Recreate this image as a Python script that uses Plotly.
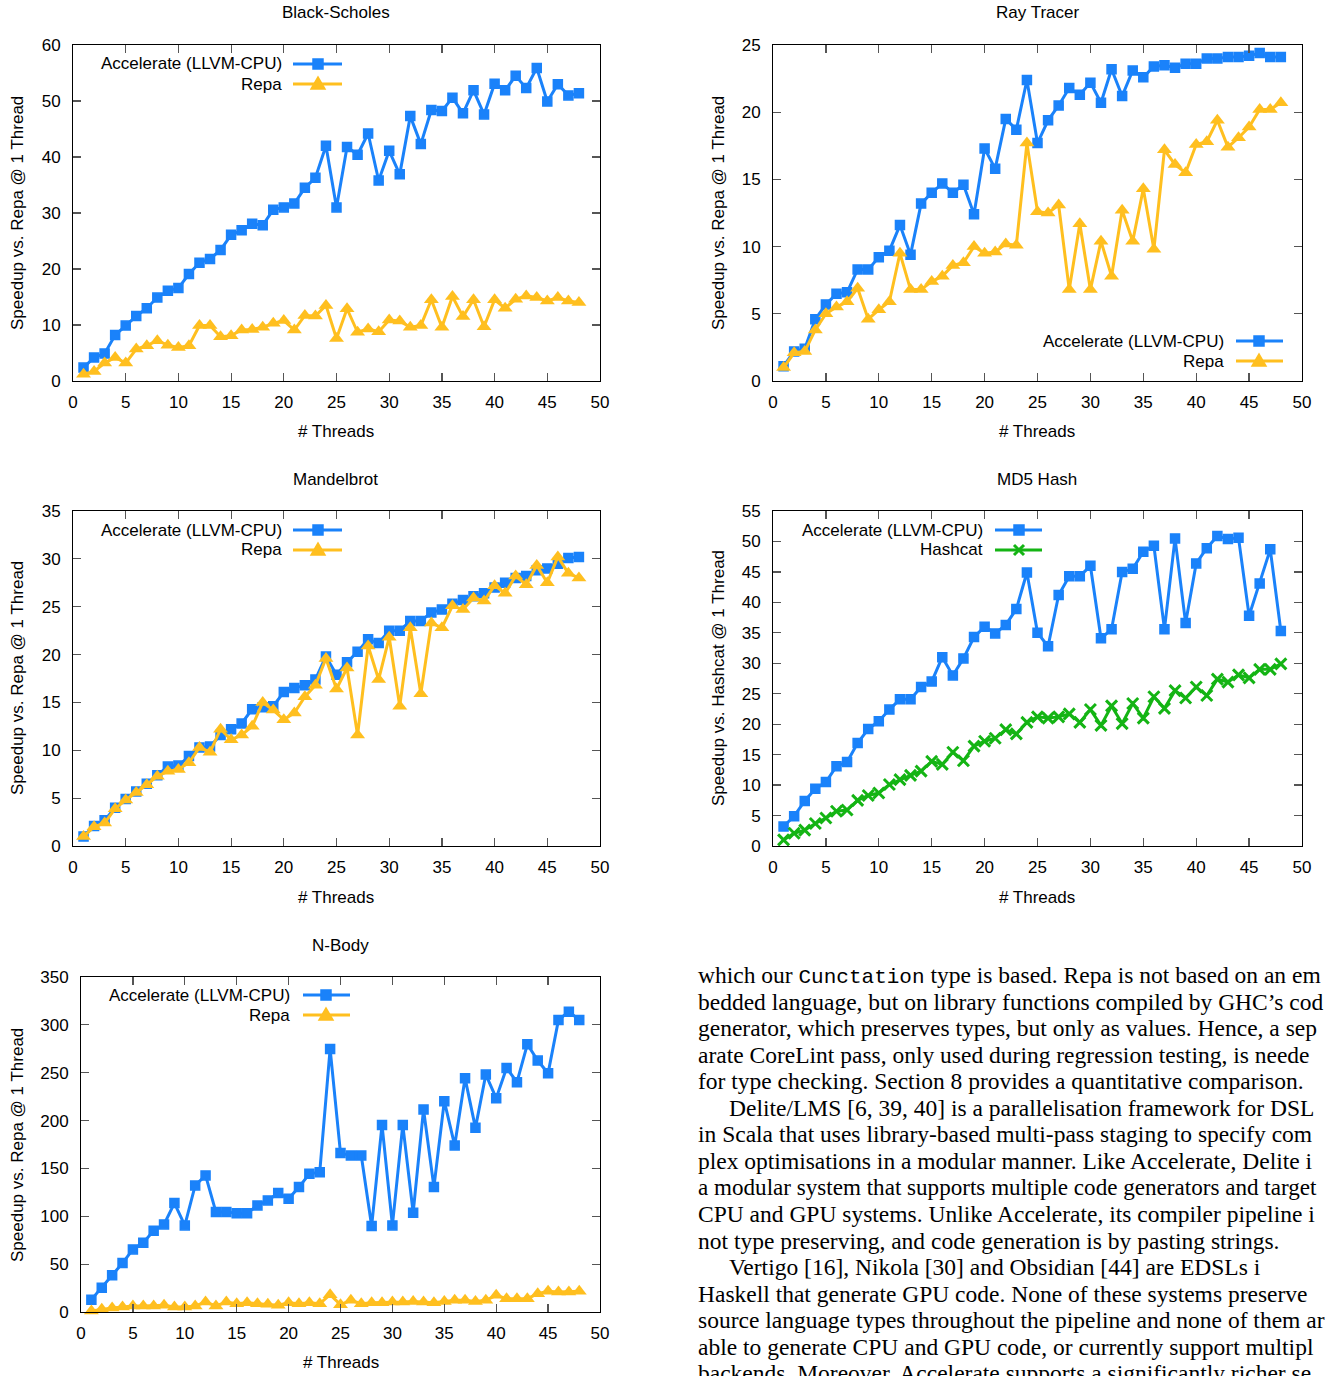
import plotly.graph_objects as go

# ---------------- data ----------------
threads = list(range(1, 49))

bs_accel = [2.4, 4.2, 4.9, 8.2, 9.9, 11.6, 13.0, 14.9, 16.1, 16.6,
            19.1, 21.1, 21.8, 23.4, 26.1, 26.9, 28.1, 27.8, 30.6, 31.0,
            31.7, 34.5, 36.3, 42.0, 31.0, 41.8, 40.4, 44.2, 35.8, 41.1,
            36.9, 47.3, 42.3, 48.4, 48.2, 50.6, 47.8, 51.9, 47.6, 53.1,
            51.9, 54.5, 52.3, 55.9, 49.9, 53.0, 51.0, 51.4]
bs_repa = [1.2, 1.7, 3.2, 4.2, 3.2, 5.7, 6.3, 7.2, 6.4, 6.0,
           6.3, 9.9, 9.9, 7.9, 8.1, 9.1, 9.2, 9.6, 10.3, 10.8,
           9.1, 11.7, 11.6, 13.5, 7.6, 12.9, 8.7, 9.3, 8.8, 10.9,
           10.7, 9.6, 9.9, 14.5, 9.6, 15.1, 11.5, 14.5, 9.7, 14.5,
           13.0, 14.6, 15.2, 14.9, 14.3, 14.9, 14.3, 14.0]

rt_accel = [1.1, 2.2, 2.4, 4.6, 5.7, 6.5, 6.6, 8.3, 8.3, 9.2,
            9.7, 11.6, 9.4, 13.2, 14.0, 14.7, 14.0, 14.6, 12.4, 17.3,
            15.8, 19.5, 18.7, 22.4, 17.7, 19.4, 20.5, 21.8, 21.3, 22.2,
            20.7, 23.2, 21.2, 23.1, 22.6, 23.4, 23.5, 23.3, 23.6, 23.6,
            24.0, 24.0, 24.1, 24.1, 24.2, 24.4, 24.1, 24.1]
rt_repa = [1.0, 2.1, 2.2, 3.8, 5.0, 5.5, 5.9, 6.9, 4.6, 5.3,
           5.9, 9.5, 6.8, 6.8, 7.4, 7.8, 8.6, 8.8, 10.0, 9.5,
           9.6, 10.2, 10.1, 17.7, 12.6, 12.5, 13.1, 6.8, 11.7, 6.8,
           10.4, 7.8, 12.7, 10.4, 14.3, 9.8, 17.2, 16.1, 15.5, 17.6,
           17.8, 19.4, 17.4, 18.1, 18.9, 20.2, 20.2, 20.7]

mb_accel = [1.0, 2.1, 2.7, 4.0, 4.9, 5.7, 6.5, 7.4, 8.3, 8.4,
            9.4, 10.3, 10.4, 11.6, 12.2, 12.8, 14.3, 14.5, 14.6, 16.1,
            16.5, 16.8, 17.4, 19.8, 17.9, 19.2, 20.3, 21.6, 21.2, 22.5,
            22.5, 23.5, 23.5, 24.4, 24.7, 25.3, 25.7, 26.1, 26.4, 27.0,
            27.5, 28.0, 28.2, 28.8, 29.0, 29.5, 30.1, 30.2]
mb_repa = [1.0, 2.0, 2.4, 3.9, 4.8, 5.6, 6.4, 7.3, 7.8, 8.0,
           8.7, 10.3, 9.8, 12.2, 11.1, 11.6, 12.5, 15.0, 14.2, 13.2,
           13.9, 15.6, 16.8, 19.6, 16.4, 18.6, 11.6, 20.9, 17.4, 21.8,
           14.6, 22.8, 15.9, 23.3, 22.8, 25.1, 24.7, 25.9, 25.6, 27.2,
           26.4, 28.2, 27.3, 29.3, 27.5, 30.2, 28.5, 28.0]

md5_accel = [3.2, 4.9, 7.4, 9.4, 10.5, 13.1, 13.8, 16.9, 19.2, 20.5,
             22.4, 24.1, 24.1, 26.1, 27.0, 31.0, 28.0, 30.8, 34.3, 36.0,
             34.9, 36.3, 38.9, 44.9, 35.0, 32.8, 41.2, 44.3, 44.3, 46.0,
             34.1, 35.6, 45.0, 45.5, 48.3, 49.3, 35.6, 50.5, 36.6, 46.4,
             48.9, 50.9, 50.4, 50.6, 37.8, 43.1, 48.7, 35.3]
md5_hashcat = [1.0, 2.1, 2.6, 3.7, 4.6, 5.7, 5.9, 7.5, 8.3, 8.7,
               10.1, 10.9, 11.6, 12.3, 13.9, 13.4, 15.4, 14.0, 16.4, 17.2,
               17.7, 19.1, 18.4, 20.3, 21.2, 21.0, 21.2, 21.7, 20.3, 22.4,
               19.8, 23.0, 20.1, 23.4, 21.0, 24.5, 22.6, 25.5, 24.3, 26.1,
               24.7, 27.4, 26.9, 28.1, 27.6, 29.0, 29.0, 29.9]

nb_accel = [12.9, 25.4, 38.3, 51.1, 65.4, 72.4, 84.9, 91.5, 113.8, 90.5,
            132.2, 142.7, 104.4, 104.4, 103.3, 103.3, 111.3, 116.6, 124.2, 118.3,
            130.5, 144.4, 146.1, 274.9, 166.0, 163.5, 163.5, 89.8, 195.5, 90.5,
            195.5, 103.7, 211.6, 130.5, 220.3, 174.0, 244.3, 192.4, 248.1, 223.4,
            255.0, 240.1, 279.7, 262.7, 249.5, 305.2, 313.8, 305.2]
nb_repa = [1.0, 2.8, 4.2, 5.2, 6.3, 6.3, 6.3, 7.0, 5.2, 5.2,
           6.3, 10.4, 6.3, 10.4, 8.7, 9.7, 8.7, 8.0, 7.0, 9.7,
           8.7, 9.7, 8.7, 18.1, 7.7, 12.2, 8.7, 9.7, 9.7, 10.4,
           10.4, 11.1, 10.4, 9.7, 11.1, 12.2, 12.2, 11.1, 12.2, 17.4,
           13.9, 13.9, 13.9, 19.1, 21.6, 20.9, 20.9, 21.6]

titles = ["Black-Scholes", "Ray Tracer", "Mandelbrot", "MD5 Hash", "N-Body"]
x_title = "# Threads"
y_title_repa = "Speedup vs. Repa @ 1 Thread"
y_title_hashcat = "Speedup vs. Hashcat @ 1 Thread"
name_accel = "Accelerate (LLVM-CPU)"
name_repa = "Repa"
name_hashcat = "Hashcat"

# body text, as much of each line as is visible in the page
MONO = "font-family:'Liberation Mono','DejaVu Sans Mono',monospace;font-size:21px"
text_lines = [
    (f"which our <span style=\"{MONO}\">Cunctation</span> type is based. Repa is not based on an em", False),
    ("bedded language, but on library functions compiled by GHC\u2019s cod", False),
    ("generator, which preserves types, but only as values. Hence, a sep", False),
    ("arate CoreLint pass, only used during regression testing, is neede", False),
    ("for type checking. Section 8 provides a quantitative comparison.", False),
    ("Delite/LMS [6, 39, 40] is a parallelisation framework for DSL", True),
    ("in Scala that uses library-based multi-pass staging to specify com", False),
    ("plex optimisations in a modular manner. Like Accelerate, Delite i", False),
    ("a modular system that supports multiple code generators and target", False),
    ("CPU and GPU systems. Unlike Accelerate, its compiler pipeline i", False),
    ("not type preserving, and code generation is by pasting strings.", False),
    ("Vertigo [16], Nikola [30] and Obsidian [44] are EDSLs i", True),
    ("Haskell that generate GPU code. None of these systems preserve", False),
    ("source language types throughout the pipeline and none of them ar", False),
    ("able to generate CPU and GPU code, or currently support multipl", False),
    ("backends. Moreover, Accelerate supports a significantly richer se", False),
]

# ---------------- styling ----------------
W, H = 1325, 1376
BLUE = "#1a82fa"
ORANGE = "#ffbf1f"
GREEN = "#14b414"
SANS = "Liberation Sans, Arial, Helvetica, sans-serif"
SERIF = "Liberation Serif, Times New Roman, serif"
FS = 17


def px(x):
    return x / W


def py(y):
    return 1 - y / H


# subplot frames in pixels: (left, right, top, bottom)
frames = [
    (73, 600, 45, 381),
    (773, 1302, 45, 381),
    (73, 600, 511, 846),
    (773, 1302, 511, 846),
    (81, 600, 977, 1312),
]
yranges = [(0, 60, 10), (0, 25, 5), (0, 35, 5), (0, 55, 5), (0, 350, 50)]

fig = go.Figure()

series = [
    [(bs_accel, name_accel, "accel"), (bs_repa, name_repa, "repa")],
    [(rt_accel, name_accel, "accel"), (rt_repa, name_repa, "repa")],
    [(mb_accel, name_accel, "accel"), (mb_repa, name_repa, "repa")],
    [(md5_accel, name_accel, "accel"), (md5_hashcat, name_hashcat, "hash")],
    [(nb_accel, name_accel, "accel"), (nb_repa, name_repa, "repa")],
]

styles = {
    "accel": dict(line=dict(color=BLUE, width=3),
                  marker=dict(symbol="square", size=9, color=BLUE,
                              line=dict(color=BLUE, width=1.5))),
    "repa": dict(line=dict(color=ORANGE, width=3),
                 marker=dict(symbol="triangle-up", size=13, color=ORANGE,
                             line=dict(width=0))),
    "hash": dict(line=dict(color=GREEN, width=3),
                 marker=dict(symbol="x-thin-open", size=11, color=GREEN,
                             line=dict(color=GREEN, width=3))),
}

for i, group in enumerate(series):
    sfx = "" if i == 0 else str(i + 1)
    for vals, nm, kind in group:
        fig.add_trace(go.Scatter(
            x=threads, y=vals, name=nm, mode="lines+markers",
            xaxis="x" + sfx, yaxis="y" + sfx, showlegend=False,
            cliponaxis=False, **styles[kind]))

layout = dict(
    width=W, height=H, margin=dict(l=0, r=0, t=0, b=0, pad=0),
    paper_bgcolor="white", plot_bgcolor="white",
    font=dict(family=SANS, size=FS, color="black"),
    showlegend=False,
)

for i, (l, r, t, b) in enumerate(frames):
    sfx = "" if i == 0 else str(i + 1)
    y0, y1, dy = yranges[i]
    common = dict(showline=True, linecolor="black", linewidth=1, mirror="ticks",
                  ticks="inside", ticklen=8, tickwidth=1.2, tickcolor="#555555",
                  showgrid=False, zeroline=False, automargin=False,
                  tickfont=dict(family=SANS, size=FS, color="black"))
    layout["xaxis" + sfx] = dict(domain=[px(l), px(r)], range=[0, 50], dtick=5, tick0=0,
                                 anchor="y" + sfx, ticklabelstandoff=6, **common)
    layout["yaxis" + sfx] = dict(domain=[py(b), py(t)], range=[y0, y1], dtick=dy, tick0=0,
                                 anchor="x" + sfx, ticklabelstandoff=8, **common)

annotations = []
shapes = []

# titles / axis labels
title_pos = [(336, 13), (1037, 13), (336, 479), (1037, 479), (341, 945)]
xt_pos = [(336, 431), (1037, 431), (336, 897), (1037, 897), (341, 1362)]
yt_pos = [(17, 213, y_title_repa), (718, 213, y_title_repa), (17, 678, y_title_repa),
          (718, 678, y_title_hashcat), (17, 1145, y_title_repa)]
for (tx, ty), (xx, xy), (yx, yy, ytxt), ttl in zip(title_pos, xt_pos, yt_pos, titles):
    annotations.append(dict(text=ttl, x=px(tx), y=py(ty), xref="paper", yref="paper",
                            showarrow=False, xanchor="center", yanchor="middle",
                            font=dict(family=SANS, size=FS, color="black")))
    annotations.append(dict(text=x_title, x=px(xx), y=py(xy), xref="paper", yref="paper",
                            showarrow=False, xanchor="center", yanchor="middle",
                            font=dict(family=SANS, size=FS, color="black")))
    annotations.append(dict(text=ytxt, x=px(yx), y=py(yy), xref="paper", yref="paper",
                            showarrow=False, xanchor="center", yanchor="middle",
                            textangle=-90,
                            font=dict(family=SANS, size=FS, color="black")))


def marker_path(kind, cx, cy):
    if kind == "accel":
        pts = [(cx - 5, cy - 5), (cx + 5, cy - 5), (cx + 5, cy + 5), (cx - 5, cy + 5)]
        return "M " + " L ".join(f"{px(a):.5f},{py(b):.5f}" for a, b in pts) + " Z", BLUE, True
    if kind == "repa":
        pts = [(cx - 7, cy + 5), (cx + 7, cy + 5), (cx, cy - 7)]
        return "M " + " L ".join(f"{px(a):.5f},{py(b):.5f}" for a, b in pts) + " Z", ORANGE, True
    d = 5
    p = (f"M {px(cx-d):.5f},{py(cy-d):.5f} L {px(cx+d):.5f},{py(cy+d):.5f} "
         f"M {px(cx-d):.5f},{py(cy+d):.5f} L {px(cx+d):.5f},{py(cy-d):.5f}")
    return p, GREEN, False


legend_specs = [
    (284, [64, 84], 293, 342, 318),
    (1226, [341, 361], 1236, 1283, 1259),
    (284, [530, 550], 293, 342, 318),
    (985, [530, 550], 995, 1042, 1019),
    (292, [995, 1015], 303, 350, 326),
]
for group, (tr, rows, lx0, lx1, cx) in zip(series, legend_specs):
    for (vals, nm, kind), ry in zip(group, rows):
        color = {"accel": BLUE, "repa": ORANGE, "hash": GREEN}[kind]
        annotations.append(dict(text=nm, x=px(tr), y=py(ry), xref="paper", yref="paper",
                                showarrow=False, xanchor="right", yanchor="middle",
                                font=dict(family=SANS, size=FS, color="black")))
        shapes.append(dict(type="line", xref="paper", yref="paper",
                           x0=px(lx0), x1=px(lx1), y0=py(ry), y1=py(ry),
                           line=dict(color=color, width=3)))
        path, col, filled = marker_path(kind, cx, ry)
        shp = dict(type="path", xref="paper", yref="paper", path=path,
                   line=dict(color=col, width=3 if not filled else 1.5))
        if filled:
            shp["fillcolor"] = col
        shapes.append(shp)

# body text block
for i, (line, indent) in enumerate(text_lines):
    x0 = 728 if indent else 697
    yc = 975 + 26.55 * i
    size = 23.1 if i == 8 else 23.5
    annotations.append(dict(text=line, x=px(x0), y=py(yc), xref="paper", yref="paper",
                            showarrow=False, xanchor="left", yanchor="middle",
                            align="left", borderpad=0,
                            font=dict(family=SERIF, size=size, color="black")))

layout["annotations"] = annotations
layout["shapes"] = shapes
fig.update_layout(**layout)

post = ("document.documentElement.style.margin='0';document.body.style.margin='0';"
        "document.body.style.padding='0';document.documentElement.style.overflow='hidden';"
        "document.body.style.overflow='hidden';")
fig.write_html("out.html", post_script=post,
               config={"displayModeBar": False, "staticPlot": True})
